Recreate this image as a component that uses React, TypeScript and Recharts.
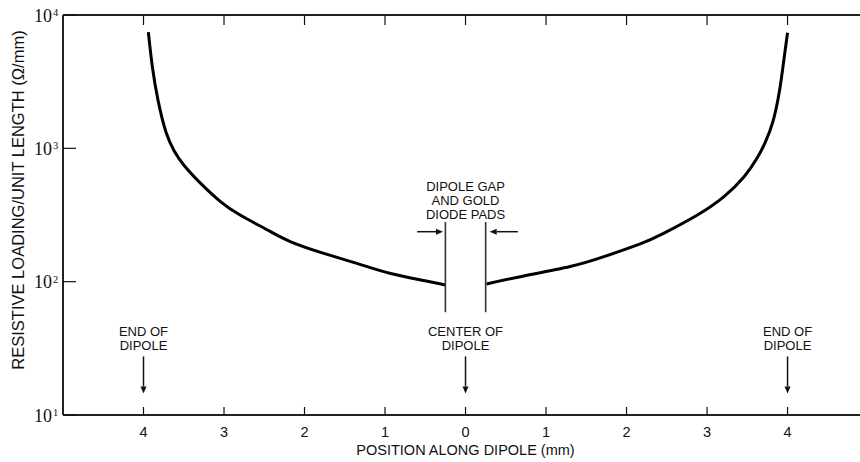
import React from 'react';
import { LineChart, Line, XAxis, YAxis, ReferenceLine, ReferenceDot } from 'recharts';

// Position along dipole (mm, negative = left half) and resistive loading (ohm/mm)
const leftPositions = [-3.94, -3.89, -3.82, -3.72, -3.62, -3.5, -3.29, -3.04, -2.8, -2.46, -2.17, -1.76, -1.35, -0.93, -0.52, -0.25];
const leftLoading = [7450, 4090, 2300, 1320, 960, 750, 546, 397, 316, 244, 199, 163, 137, 115, 102, 94.4];
const rightPositions = [0.26, 0.68, 1.3, 1.72, 2.17, 2.46, 2.88, 3.21, 3.46, 3.62, 3.72, 3.82, 3.9, 3.95, 4.0];
const rightLoading = [96, 109, 130, 154, 192, 230, 316, 434, 612, 841, 1100, 1600, 2700, 4400, 7360];

const xTicks = [-4, -3, -2, -1, 0, 1, 2, 3, 4];
const yTicks = [10, 100, 1000, 10000];
const xDomain = [-5, 4.9];
const yDomain = [10, 10000];

const xTitle = 'POSITION ALONG DIPOLE (mm)';
const yTitle = 'RESISTIVE LOADING/UNIT LENGTH (\u03A9/mm)';

const gapEdges = [-0.25, 0.25];
const gapSpan = [280, 59];
const gapText = ['DIPOLE GAP', 'AND GOLD', 'DIODE PADS'];
const gapTextAnchor = { x: 0, y: 515 };
const gapArrows = [
  { from: -0.6, to: -0.28, level: 237 },
  { from: 0.65, to: 0.3, level: 237 },
];
const markers = [
  { x: -4, lines: ['END OF', 'DIPOLE'] },
  { x: 0, lines: ['CENTER OF', 'DIPOLE'] },
  { x: 4, lines: ['END OF', 'DIPOLE'] },
];
const markerTextLevel = 42;
const markerArrowSpan = [27.5, 14.5];

const leftSeries = leftPositions.map((x, i) => ({ x, loading: leftLoading[i] }));
const rightSeries = rightPositions.map((x, i) => ({ x, loading: rightLoading[i] }));

const SANS = "'Liberation Sans', Arial, Helvetica, sans-serif";
const SERIF = "'Liberation Serif', 'Times New Roman', serif";
const INK = '#111';

const BottomTick = (props: any) => {
  const { x, y, payload } = props;
  return (
    <g>
      <line x1={x} y1={y} x2={x} y2={y - 8} stroke={INK} strokeWidth={1.2} />
      <text x={x} y={y + 22} textAnchor="middle" fontSize={14.5} fontFamily={SANS} fill={INK}>
        {Math.abs(payload.value)}
      </text>
    </g>
  );
};

const TopTick = (props: any) => {
  const { x, y } = props;
  return <line x1={x} y1={y} x2={x} y2={y + 10} stroke={INK} strokeWidth={1.2} />;
};

const LeftTick = (props: any) => {
  const { x, y, payload } = props;
  const exp = Math.round(Math.log10(payload.value));
  return (
    <g>
      <line x1={x} y1={y} x2={x + 13} y2={y} stroke={INK} strokeWidth={1.2} />
      <text x={x - 11} y={y + 6.5} textAnchor="end" fontSize={18} fontFamily={SERIF} fill={INK}>
        10
      </text>
      <text x={x - 10} y={y + 1} fontSize={10.5} fontFamily={SERIF} fill={INK}>
        {exp}
      </text>
    </g>
  );
};

const RightTick = (props: any) => {
  const { x, y } = props;
  return <line x1={x} y1={y} x2={x - 6} y2={y} stroke={INK} strokeWidth={1.2} />;
};

const Arrow = (props: any) => {
  const { x1, y1, x2, y2 } = props;
  const ang = Math.atan2(y2 - y1, x2 - x1);
  const L = 7;
  const W = 3;
  const bx = x2 - L * Math.cos(ang);
  const by = y2 - L * Math.sin(ang);
  const px = -Math.sin(ang) * W;
  const py = Math.cos(ang) * W;
  return (
    <g>
      <line x1={x1} y1={y1} x2={bx} y2={by} stroke={INK} strokeWidth={1.5} />
      <polygon points={`${x2},${y2} ${bx + px},${by + py} ${bx - px},${by - py}`} fill={INK} />
    </g>
  );
};

const GapLine = (props: any) => {
  const { x1, y1, x2, y2 } = props;
  return <line x1={x1} y1={y1} x2={x2} y2={y2} stroke="#333" strokeWidth={1.6} />;
};

const makeMultiText = (lines: string[], lh: number) => (props: any) => {
  const { cx, cy } = props;
  return (
    <text textAnchor="middle" fontSize={13} fontFamily={SANS} fill={INK}>
      {lines.map((l, i) => (
        <tspan key={i} x={cx} y={cy + 4.5 + i * lh}>
          {l}
        </tspan>
      ))}
    </text>
  );
};

const XTitle = (props: any) => {
  const vb = props.viewBox || {};
  return (
    <text x={vb.x + vb.width / 2 + 4} y={vb.y + 40} textAnchor="middle" fontSize={14.5} fontFamily={SANS} fill={INK}>
      {xTitle}
    </text>
  );
};

const YTitle = (props: any) => {
  const vb = props.viewBox || {};
  const cx = vb.x + 18;
  const cy = vb.y + vb.height / 2 - 15;
  return (
    <text
      x={cx}
      y={cy}
      textAnchor="middle"
      dominantBaseline="central"
      transform={`rotate(-90, ${cx}, ${cy})`}
      fontSize={16.5}
      fontFamily={SANS}
      fill={INK}
    >
      {yTitle}
    </text>
  );
};

export default function App() {
  return (
    <div style={{ position: 'absolute', left: 0, top: 0, width: 860, height: 462, background: '#fff' }}>
      <LineChart width={860} height={462} margin={{ top: 14, right: 0, bottom: 46, left: 0 }}>
        <XAxis
          type="number"
          dataKey="x"
          domain={xDomain}
          allowDataOverflow
          ticks={xTicks}
          interval={0}
          height={1}
          tickSize={0}
          tickMargin={0}
          tickLine={false}
          tick={BottomTick}
          axisLine={{ stroke: '#222', strokeWidth: 2 }}
          label={XTitle}
        />
        <XAxis
          xAxisId="top"
          orientation="top"
          type="number"
          dataKey="x"
          domain={xDomain}
          allowDataOverflow
          ticks={xTicks}
          interval={0}
          height={1}
          tickSize={0}
          tickMargin={0}
          tickLine={false}
          tick={TopTick}
          axisLine={{ stroke: '#222', strokeWidth: 2 }}
        />
        <YAxis
          type="number"
          scale="log"
          domain={yDomain}
          allowDataOverflow
          ticks={yTicks}
          interval={0}
          width={63}
          tickSize={0}
          tickMargin={0}
          tickLine={false}
          tick={LeftTick}
          axisLine={{ stroke: '#222', strokeWidth: 2 }}
          label={YTitle}
        />
        <YAxis
          yAxisId="right"
          orientation="right"
          type="number"
          scale="log"
          domain={yDomain}
          allowDataOverflow
          ticks={yTicks}
          interval={0}
          width={0}
          tickSize={0}
          tickMargin={0}
          tickLine={false}
          tick={RightTick}
          axisLine={false}
        />
        <Line
          data={leftSeries}
          type="natural"
          dataKey="loading"
          stroke="#000"
          strokeWidth={3}
          dot={false}
          activeDot={false}
          isAnimationActive={false}
        />
        <Line
          data={rightSeries}
          type="natural"
          dataKey="loading"
          stroke="#000"
          strokeWidth={3}
          dot={false}
          activeDot={false}
          isAnimationActive={false}
        />
        {gapEdges.map((gx) => (
          <ReferenceLine
            key={`gap${gx}`}
            segment={[{ x: gx, y: gapSpan[0] }, { x: gx, y: gapSpan[1] }]}
            shape={GapLine}
          />
        ))}
        {gapArrows.map((a, i) => (
          <ReferenceLine
            key={`ga${i}`}
            segment={[{ x: a.from, y: a.level }, { x: a.to, y: a.level }]}
            shape={Arrow}
          />
        ))}
        <ReferenceDot x={gapTextAnchor.x} y={gapTextAnchor.y} r={0} shape={makeMultiText(gapText, 14)} />
        {markers.map((m, i) => (
          <ReferenceLine
            key={`ma${i}`}
            segment={[{ x: m.x, y: markerArrowSpan[0] }, { x: m.x, y: markerArrowSpan[1] }]}
            shape={Arrow}
          />
        ))}
        {markers.map((m, i) => (
          <ReferenceDot key={`mt${i}`} x={m.x} y={markerTextLevel} r={0} shape={makeMultiText(m.lines, 14)} />
        ))}
      </LineChart>
    </div>
  );
}
